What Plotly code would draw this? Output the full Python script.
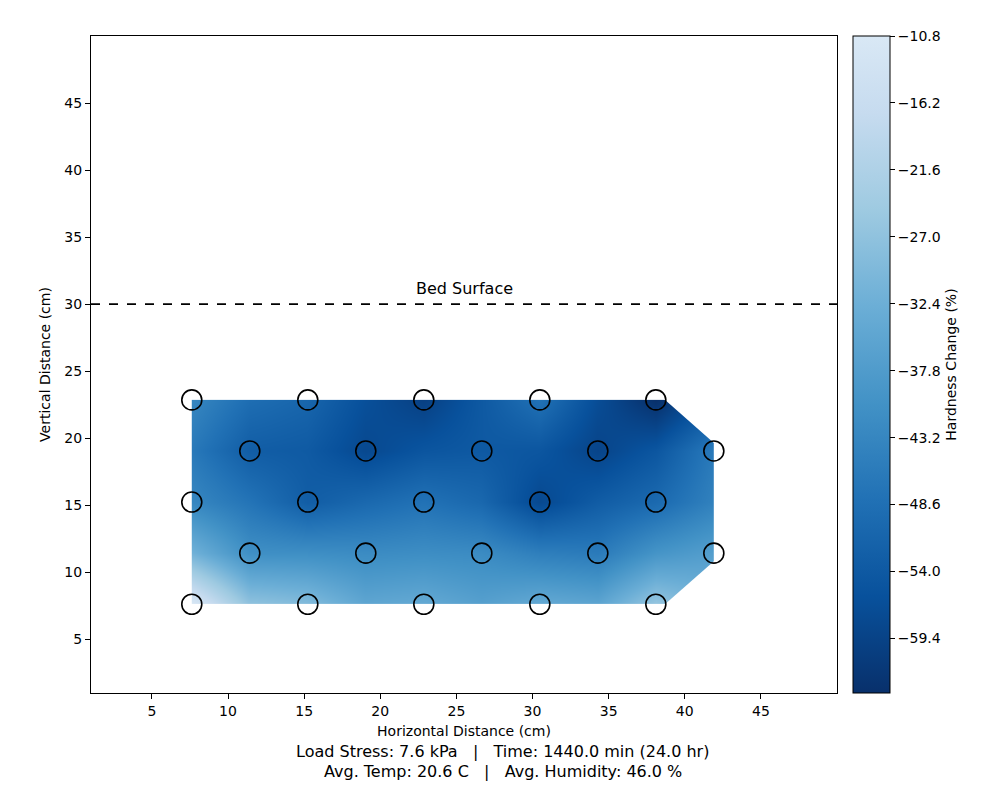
import plotly.graph_objects as go

# measurement grid (cm), staggered rows
x_cm = [7.62, 15.24, 22.86, 30.48, 38.1,
        11.43, 19.05, 26.67, 34.29, 41.91,
        7.62, 15.24, 22.86, 30.48, 38.1,
        11.43, 19.05, 26.67, 34.29, 41.91,
        7.62, 15.24, 22.86, 30.48, 38.1]
y_cm = [22.86] * 5 + [19.05] * 5 + [15.24] * 5 + [11.43] * 5 + [7.62] * 5

# hardness change (%)
hardness_change = [-43.0, -51.0, -60.0, -48.0, -63.8,
                   -53.0, -58.0, -54.0, -59.0, -46.0,
                   -43.0, -53.0, -48.0, -58.0, -50.0,
                   -41.0, -42.0, -42.0, -46.0, -37.0,
                   -10.8, -29.0, -34.0, -34.0, -26.0]

bed_surface_y = 30
cbar_ticks = [-10.8, -16.2, -21.6, -27.0, -32.4, -37.8, -43.2, -48.6, -54.0, -59.4]
cbar_text = [f'\u2212{abs(v):.1f}' for v in cbar_ticks]
x_ticks = [5, 10, 15, 20, 25, 30, 35, 40, 45]
y_ticks = [5, 10, 15, 20, 25, 30, 35, 40, 45]

# matplotlib Blues_r (cut a little at the light end)
blues_r = [
    [0.0, '#08306b'], [0.147, '#08519c'], [0.294, '#2171b5'], [0.441, '#4292c6'],
    [0.588, '#6baed6'], [0.735, '#9ecae1'], [0.882, '#c6dbef'], [1.0, '#d9e8f5'],
]

FONT = 'DejaVu Sans'

fig = go.Figure()

fig.add_trace(go.Contour(
    x=x_cm, y=y_cm, z=hardness_change,
    connectgaps=True,
    colorscale=blues_r, zmin=-63.8, zmax=-10.8,
    contours=dict(coloring='heatmap', showlines=False),
    line=dict(width=0),
    colorbar=dict(
        x=1.0214, xanchor='left', y=0.5, yanchor='middle', len=1, lenmode='fraction',
        thickness=37, xpad=0, ypad=0, outlinewidth=1, outlinecolor='black',
        tickvals=cbar_ticks, ticktext=cbar_text, ticks='outside', ticklen=5, tickcolor='black',
        tickfont=dict(family=FONT, size=14, color='black'),
        title=dict(text='Hardness Change (%)', side='right', font=dict(family=FONT, size=14, color='black')),
    ),
    hoverinfo='skip',
))

# white out the two corners outside the convex hull of the points
x_right = max(x_cm)
x_edge = max(x for x, y in zip(x_cm, y_cm) if y == max(y_cm))
y_top, y_bot = max(y_cm), min(y_cm)
y_top_r = max(y for x, y in zip(x_cm, y_cm) if x == x_right)
y_bot_r = min(y for x, y in zip(x_cm, y_cm) if x == x_right)
pad = 0.6
for tri_x, tri_y in [
    ([x_edge, x_right + pad, x_right + pad, x_edge], [y_top + pad, y_top + pad, y_top_r, y_top + pad]),
    ([x_edge, x_right + pad, x_right + pad, x_edge], [y_bot - pad, y_bot - pad, y_bot_r, y_bot - pad]),
]:
    fig.add_trace(go.Scatter(
        x=tri_x, y=tri_y, mode='none', fill='toself', fillcolor='white',
        showlegend=False, hoverinfo='skip',
    ))

fig.add_trace(go.Scatter(
    x=x_cm, y=y_cm, mode='markers',
    marker=dict(symbol='circle-open', size=20, color='black', line=dict(width=1.6)),
    showlegend=False,
))

fig.add_shape(type='line', xref='paper', yref='y', x0=0, x1=1, y0=bed_surface_y, y1=bed_surface_y,
              line=dict(color='black', width=1.6, dash='dash'))
fig.add_annotation(x=0.5, xref='paper', y=bed_surface_y, yref='y', text='Bed Surface', showarrow=False,
                   yanchor='bottom', yshift=4, font=dict(family=FONT, size=16, color='black'))

fig.add_annotation(x=0.552, xref='paper', y=-0.0896, yref='paper', yanchor='middle',
                   text='Load Stress: 7.6 kPa   |   Time: 1440.0 min (24.0 hr)', showarrow=False,
                   font=dict(family=FONT, size=16, color='black'))
fig.add_annotation(x=0.552, xref='paper', y=-0.119, yref='paper', yanchor='middle',
                   text='Avg. Temp: 20.6 C   |   Avg. Humidity: 46.0 %', showarrow=False,
                   font=dict(family=FONT, size=16, color='black'))

axis_style = dict(
    showline=True, mirror=True, linecolor='black', linewidth=1, showgrid=False, zeroline=False,
    ticks='outside', ticklen=5, tickcolor='black', tickfont=dict(family=FONT, size=14, color='black'),
)
fig.update_xaxes(range=[1, 50], tickvals=x_ticks, **axis_style,
                 title=dict(text='Horizontal Distance (cm)', standoff=8, font=dict(family=FONT, size=14, color='black')))
fig.update_yaxes(range=[1, 50], tickvals=y_ticks, **axis_style,
                 title=dict(text='Vertical Distance (cm)', standoff=10, font=dict(family=FONT, size=14, color='black')))

# page body adds an 8px margin, so the figure is 8px smaller each way
fig.update_layout(
    width=978, height=782,
    margin=dict(l=83, r=149, t=28, b=97),
    plot_bgcolor='white', paper_bgcolor='white',
    showlegend=False,
    font=dict(family=FONT, color='black'),
)

fig.write_html('out.html')
